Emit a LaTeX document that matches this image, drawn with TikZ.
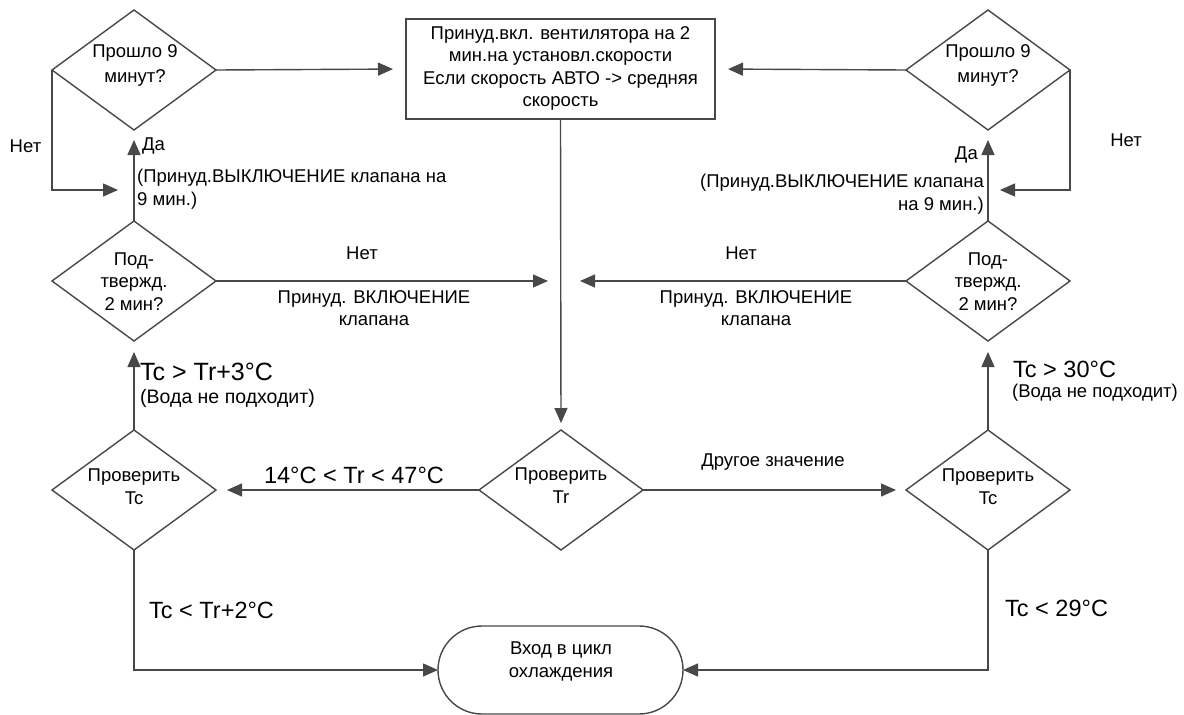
\documentclass[tikz,border=0pt]{standalone}
\usepackage{fontspec}
\setmainfont{Liberation Sans}
\usetikzlibrary{shapes.geometric,shapes.misc,arrows.meta}
\definecolor{ln}{RGB}{72,72,72}
\tikzset{
  every picture/.style={x=1pt,y=-1pt},
  dia/.style={draw=ln,line width=1.4pt,diamond,minimum width=164pt,minimum height=120pt,inner sep=0pt,outer sep=0pt},
  boxn/.style={draw=ln,line width=1.4pt,rectangle,minimum width=309pt,minimum height=100pt,inner sep=0pt,outer sep=0pt},
  termn/.style={draw=ln,line width=1.4pt,rounded rectangle,minimum width=245pt,minimum height=88pt,inner sep=0pt,outer sep=0pt},
  txt/.style={font=\fontsize{18.5}{22.5}\selectfont,align=center,inner sep=0pt},
  txtb/.style={font=\fontsize{18.5}{24.5}\selectfont,align=center,inner sep=0pt},
  big/.style={font=\fontsize{23.5}{26}\selectfont,inner sep=0pt},
  conn/.style={draw=ln,line width=1.4pt,-{Triangle[length=15pt,width=13pt]}},
}
\begin{document}
\begin{tikzpicture}
\useasboundingbox (0,0) rectangle (1184,715);
% shapes
\node[dia] (d1) at (134,70) {};
\node[dia] (d2) at (988,70) {};
\node[boxn] (bx) at (560.5,69) {};
\node[dia] (m1) at (134,281) {};
\node[dia] (m2) at (988,281) {};
\node[dia] (c1) at (134,490) {};
\node[dia] (tr) at (561,490) {};
\node[dia] (c2) at (988,490) {};
\node[termn] (tm) at (560.5,670) {};
% texts in shapes
\node[txtb] (d1t) at (135,65.5) {Прошло 9\\минут?};
\node[txtb] (d2t) at (988,65.5) {Прошло 9\\минут?};
\node[txt] (bxt) at (560.5,68.5) {Принуд.вкл. вентилятора на 2\\мин.на установл.скорости\\Если скорость АВТО -> средняя\\скорость};
\node[txt] (m1t) at (134,281.5) {Под-\\твержд.\\2 мин?};
\node[txt] (m2t) at (988,281.5) {Под-\\твержд.\\2 мин?};
\node[txt] (c1t) at (134,486.5) {Проверить\\Tc};
\node[txt] (trt) at (561,485.5) {Проверить\\Tr};
\node[txt] (c2t) at (988,486.5) {Проверить\\Tc};
\node[txt] (tmt) at (561,661.5) {Вход в цикл\\охлаждения};
% junction coordinates
\coordinate (jl) at (134,190);
\coordinate (jr) at (988,190);
\coordinate (hm) at (561,281);
% connectors
\draw[conn,shorten >=13pt] (d1.east) -- (bx.west);
\draw[conn,shorten >=13pt] (d2.west) -- (bx.east);
\draw[conn,shorten >=7pt] (bx.south) -- (tr.north);
\draw[conn,shorten >=16pt] (d1.west) |- (jl);
\draw[conn,shorten >=12pt] (d2.east) |- (jr);
\draw[conn,shorten >=10pt] (m1.north) -- (d1.south);
\draw[conn,shorten >=10pt] (m2.north) -- (d2.south);
\draw[conn,shorten >=13pt] (m1.east) -- (hm);
\draw[conn,shorten >=19pt] (m2.west) -- (hm);
\draw[conn,shorten >=11pt] (c1.north) -- (m1.south);
\draw[conn,shorten >=11pt] (c2.north) -- (m2.south);
\draw[conn,shorten >=11pt] (tr.west) -- (c1.east);
\draw[conn,shorten >=10pt] (tr.east) -- (c2.west);
\draw[conn] (c1.south) |- (tm.west);
\draw[conn] (c2.south) |- (tm.east);
% labels
\node[txt] (n1) at (25.5,146) {Нет};
\node[txt] (n2) at (1126,140) {Нет};
\node[txt,anchor=west] (da1) at (142,146) {Да};
\node[txt,anchor=east] (da2) at (978,155) {Да};
\node[txt,anchor=west,align=left] (off1) at (137,189) {(Принуд.ВЫКЛЮЧЕНИЕ клапана на\\9 мин.)};
\node[txt,anchor=east,align=right] (off2) at (984,194) {(Принуд.ВЫКЛЮЧЕНИЕ клапана\\на 9 мин.)};
\node[txt] (n3) at (362,253) {Нет};
\node[txt] (on1) at (374,308) {Принуд. ВКЛЮЧЕНИЕ\\клапана};
\node[txt] (n4) at (741,253) {Нет};
\node[txt] (on2) at (756,308) {Принуд. ВКЛЮЧЕНИЕ\\клапана};
\node[big,anchor=west,font=\fontsize{25}{28}\selectfont] (t1) at (140,372) {Tc > Tr+3°C};
\node[txt,anchor=west,font=\fontsize{19.5}{22.5}\selectfont] (w1) at (140,398) {(Вода не подходит)};
\node[big,anchor=west] (t2) at (1013,369) {Tc > 30°C};
\node[txt,anchor=west] (w2) at (1012,393) {(Вода не подходит)};
\node[big] (r1) at (354,475) {14°C < Tr < 47°C};
\node[txt] (r2) at (773,462) {Другое значение};
\node[big,anchor=west] (t3) at (149,610) {Tc < Tr+2°C};
\node[big,anchor=west] (t4) at (1005,608) {Tc < 29°C};
\end{tikzpicture}
\end{document}
